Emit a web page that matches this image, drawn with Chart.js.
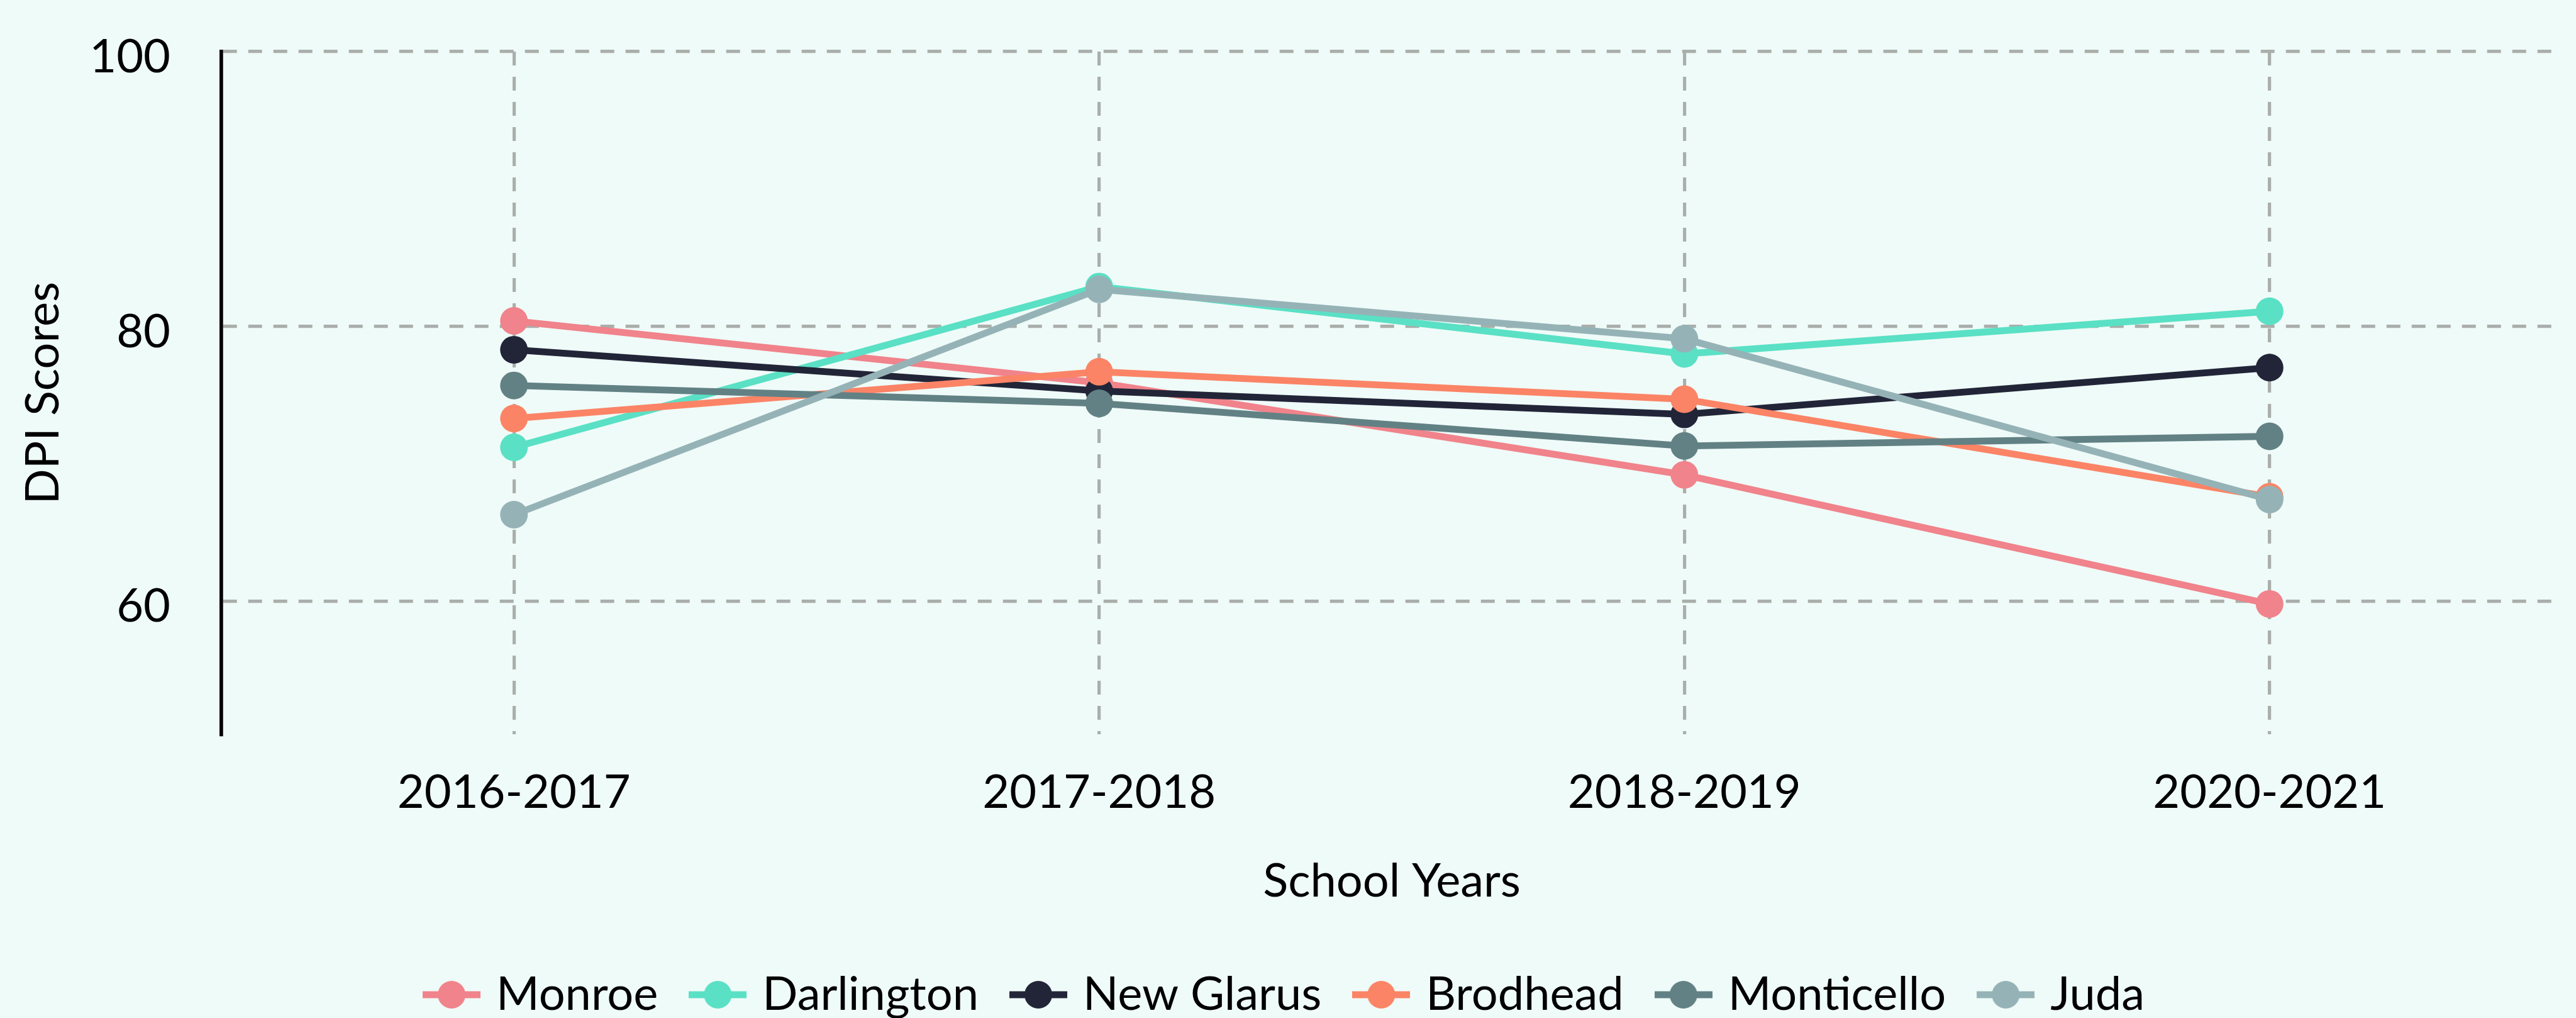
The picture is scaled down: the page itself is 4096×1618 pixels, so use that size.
<!DOCTYPE html>
<html>
<head>
<meta charset="utf-8">
<title>DPI Scores by School Year</title>
<script src="https://cdn.jsdelivr.net/npm/chart.js"></script>
<style>
  html, body { margin: 0; padding: 0; background: #effbf8; }
  #dpiChart { display: block; background: #effbf8; }
</style>
</head>
<body>
<canvas id="dpiChart" width="4096" height="1618"></canvas>
<script>
// ---- data ----
const schoolYears = ["2016-2017", "2017-2018", "2018-2019", "2020-2021"];
const schools = ["Monroe", "Darlington", "New Glarus", "Brodhead", "Monticello", "Juda"];

const monroeScores     = [80.4, 75.9, 69.2, 59.8];
const darlingtonScores = [71.2, 82.9, 78.0, 81.1];
const newGlarusScores  = [78.3, 75.3, 73.6, 77.0];
const brodheadScores   = [73.3, 76.7, 74.7, 67.6];
const monticelloScores = [75.7, 74.4, 71.3, 72.0];
const judaScores       = [66.3, 82.7, 79.1, 67.4];

const yTicks = [60, 80, 100];

// ---- styling ----
const schoolColors = ["#f0838b", "#5ae0c5", "#222538", "#fb8466", "#628185", "#95b3b7"];
const gridColor = "#aaafac";
const fontSize = 74;
const padLeft = 17;

Chart.defaults.font.family = "Lato, 'Open Sans', sans-serif";
Chart.defaults.color = "#000";

// Legend marker: short line with a dot in the middle
function legendIcon(color) {
  const c = document.createElement("canvas");
  c.width = 92;
  c.height = 46;
  const ctx = c.getContext("2d");
  ctx.fillStyle = color;
  ctx.fillRect(0, 23 - 5.5, 92, 11);
  ctx.beginPath();
  ctx.arc(46, 23, 22, 0, Math.PI * 2);
  ctx.fill();
  return c;
}

const seriesScores = [monroeScores, darlingtonScores, newGlarusScores, brodheadScores, monticelloScores, judaScores];

const datasets = schools.map((name, i) => ({
  label: name,
  data: seriesScores[i],
  borderColor: schoolColors[i],
  backgroundColor: schoolColors[i],
  pointBackgroundColor: schoolColors[i],
  borderWidth: 10.8,
  pointRadius: 22,
  pointHoverRadius: 22,
  pointBorderWidth: 0,
  tension: 0,
  order: schools.length - i // later schools drawn on top
}));

new Chart(document.getElementById("dpiChart"), {
  type: "line",
  data: { labels: schoolYears, datasets },
  options: {
    responsive: false,
    animation: false,
    devicePixelRatio: 1,
    layout: { padding: { top: 82, right: 19, bottom: -10, left: padLeft } },
    plugins: {
      tooltip: { enabled: false },
      legend: {
        position: "bottom",
        labels: {
          usePointStyle: true,
          pointStyleWidth: 68,
          padding: 61,
          color: "#000",
          font: { size: fontSize },
          generateLabels: chart => chart.data.datasets.map((ds, i) => ({
            text: ds.label,
            pointStyle: legendIcon(ds.borderColor),
            fillStyle: ds.borderColor,
            strokeStyle: ds.borderColor,
            lineWidth: 0,
            hidden: false,
            datasetIndex: i
          }))
        }
      }
    },
    scales: {
      x: {
        offset: true,
        grid: { color: gridColor, lineWidth: 5.2, drawTicks: false },
        border: { display: false, dash: [22, 18] },
        ticks: { color: "#000", font: { size: fontSize }, padding: 48 },
        title: {
          display: true,
          text: "School Years",
          color: "#000",
          font: { size: fontSize },
          padding: { top: 5, bottom: 37 }
        }
      },
      y: {
        min: 50.3,
        max: 100,
        afterBuildTicks: axis => { axis.ticks = yTicks.map(v => ({ value: v })); },
        afterFit: axis => { axis.width = 352 - padLeft; },
        // invisible tick marks give the label gap without pushing the top down
        grid: { color: gridColor, lineWidth: 5.2, drawTicks: true, tickLength: 81, tickColor: "transparent" },
        border: { display: true, color: "#000", width: 5.7, dash: [22, 18] },
        ticks: { color: "#000", font: { size: fontSize }, padding: 0, labelOffset: 9 },
        title: {
          display: true,
          text: "DPI Scores",
          color: "#000",
          font: { size: fontSize },
          padding: { top: 8, bottom: 0 }
        }
      }
    }
  }
});
</script>
</body>
</html>
